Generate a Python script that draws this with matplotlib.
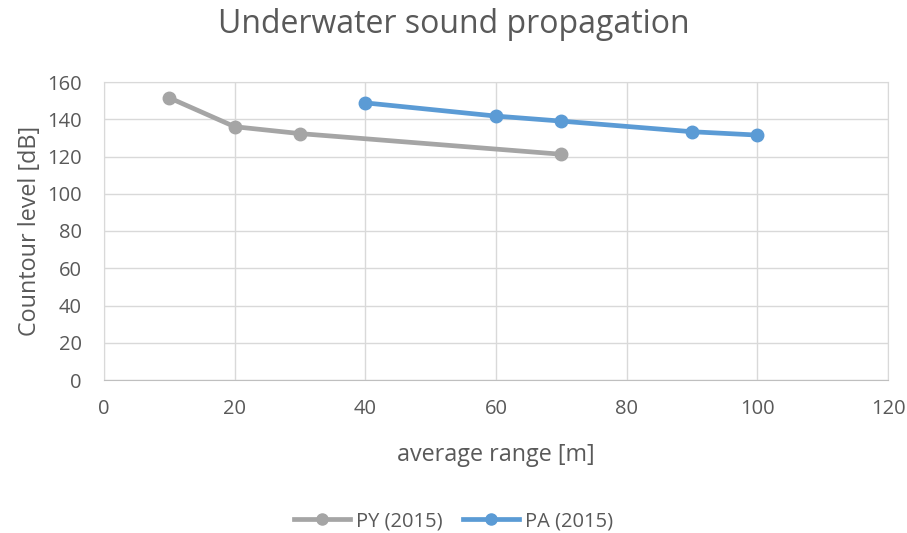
"""Underwater sound propagation: contour level vs average range."""

import matplotlib.pyplot as plt
from matplotlib.lines import Line2D

plt.rcParams["font.family"] = ["Open Sans", "DejaVu Sans"]

# PY (2015)
py_range = [10, 20, 30, 70]
py_level = [151.5, 136, 132.3, 121.2]

# PA (2015)
pa_range = [40, 60, 70, 90, 100]
pa_level = [148.8, 141.7, 139, 133.3, 131.5]

GRAY = "#a5a5a5"
BLUE = "#5b9bd5"
TEXT = "#595959"
GRID = "#d9d9d9"

fig = plt.figure(figsize=(9.07, 5.33), dpi=100)
ax = fig.add_axes([104 / 907, 1 - 380 / 533, (888 - 104) / 907, (380 - 82) / 533])

ax.plot(py_range, py_level, color=GRAY, linewidth=3.4, marker="o",
        markersize=9, solid_capstyle="round", label="PY (2015)", zorder=3)
ax.plot(pa_range, pa_level, color=BLUE, linewidth=3.4, marker="o",
        markersize=9, solid_capstyle="round", label="PA (2015)", zorder=3)

ax.set_xlim(0, 120)
ax.set_ylim(0, 160)
ax.set_xticks(range(0, 121, 20))
ax.set_yticks(range(0, 161, 20))
ax.grid(True, color=GRID, linewidth=1)
ax.set_axisbelow(True)
for side in ["top", "right", "left"]:
    ax.spines[side].set_color(GRID)
ax.spines["bottom"].set_color("#bfbfbf")
ax.tick_params(length=0, labelsize=14.5, labelcolor=TEXT)
ax.tick_params(axis="x", pad=14)
ax.tick_params(axis="y", pad=16)

ax.set_xlabel("average range [m]", fontsize=16.8, color=TEXT, labelpad=17)
ax.set_ylabel("Countour level [dB]", fontsize=16.8, color=TEXT, labelpad=4)
fig.suptitle("Underwater sound propagation", fontsize=23, color=TEXT, y=0.985)

handles = [Line2D([0], [0], color=GRAY, lw=3.4, marker="o", markersize=8),
           Line2D([0], [0], color=BLUE, lw=3.4, marker="o", markersize=8)]
fig.legend(handles, ["PY (2015)", "PA (2015)"], loc="center",
           bbox_to_anchor=(0.5, 1 - 521 / 533), ncol=2, frameon=False,
           fontsize=14.5, labelcolor=TEXT, handlelength=2.8,
           handletextpad=0.3, columnspacing=1.0)

fig.savefig("out.png", dpi=100)
